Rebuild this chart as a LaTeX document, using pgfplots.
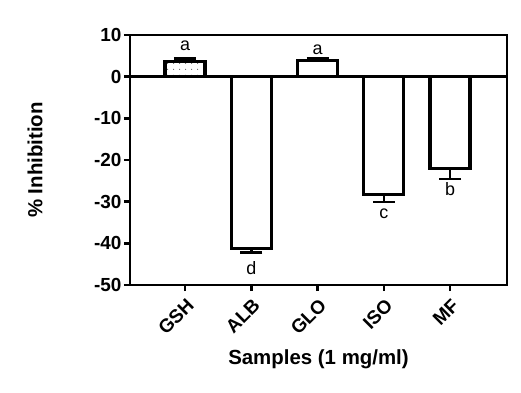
\documentclass[border=0pt]{standalone}
\usepackage{pgfplots}
\pgfplotsset{compat=1.18}
\usepackage{fontspec}
\setmainfont{Liberation Sans}
\usetikzlibrary{patterns.meta}
\begin{document}
\begin{tikzpicture}
\path[use as bounding box] (-130bp,-108bp) rectangle (391bp,285bp);
\begin{axis}[
  at={(0,0)}, anchor=south west,
  scale only axis, width=377bp, height=250bp,
  xmin=-0.83, xmax=4.86, ymin=-50, ymax=10,
  ytick={-50,-40,...,10},
  xtick={0,1,2,3,4},
  xticklabels={GSH,ALB,GLO,ISO,MF},
  xtick pos=bottom, ytick pos=left,
  tick align=outside,
  major tick length=6bp,
  axis line style={line width=2.5bp},
  every tick/.style={black, line width=2.5bp},
  /pgf/number format/assume math mode=true,
  tick label style={font=\bfseries\fontsize{19}{19}\selectfont},
  yticklabel style={xshift=1bp},
  xticklabel style={rotate=45, anchor=north east, inner sep=1bp, xshift=-3bp, yshift=-4bp},
  xlabel={Samples (1 mg/ml)},
  ylabel={\% Inhibition},
  label style={font=\bfseries\fontsize{20.5}{20.5}\selectfont},
  xlabel style={at={(axis description cs:0.5,0)}, anchor=center, yshift=-74bp},
  ylabel style={at={(axis description cs:0,0.5)}, anchor=center, rotate=0, yshift=95bp},
  clip=false,
]
\addplot[black, line width=2.5bp, forget plot] coordinates {(-0.83,0) (4.86,0)};
\pgfplotsset{
  mybar/.style={ybar, bar width=40bp, bar shift=0pt, draw=black, line width=3.3bp, fill=white,
    error bars/.cd, y explicit, error mark=|,
    error bar style={line width=2.5bp, black},
    error mark options={line width=2.5bp, black, mark size=11bp}, /pgfplots/.cd},
}
\addplot[mybar, postaction={pattern={Dots[distance=6bp, radius=0.7bp]}, pattern color=black!60}, error bars/y dir=plus]
  coordinates {(0,3.7) +- (0,0.6)};
\addplot[mybar, error bars/y dir=minus] coordinates {(1,-41.3) +- (0,0.9)};
\addplot[mybar, error bars/y dir=plus] coordinates {(2,3.8) +- (0,0.6)};
\addplot[mybar, error bars/y dir=minus] coordinates {(3,-28.2) +- (0,1.9)};
\addplot[mybar, error bars/y dir=minus] coordinates {(4,-22.0) +- (0,2.6)};
\begin{scope}[every node/.style={font=\fontsize{18}{18}\selectfont}]
\node at (axis cs:0,7.4) {a};
\node at (axis cs:2,6.4) {a};
\node at (axis cs:1,-45.9) {d};
\node at (axis cs:3,-33.0) {c};
\node at (axis cs:4,-27.0) {b};
\end{scope}
\end{axis}
\end{tikzpicture}
\end{document}
